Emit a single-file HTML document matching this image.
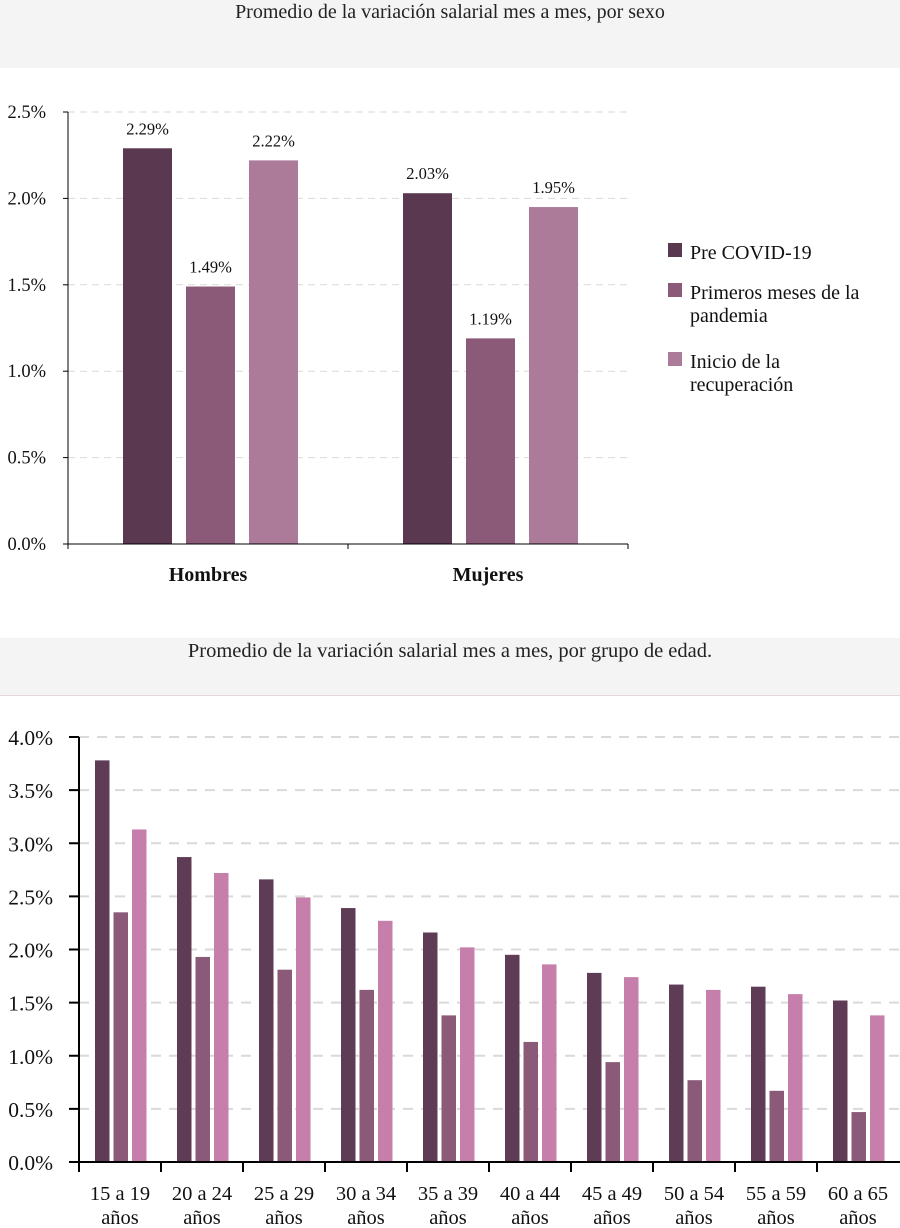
<!DOCTYPE html>
<html><head><meta charset="utf-8"><style>
body{margin:0;background:#fff;width:900px;height:1228px;overflow:hidden}
svg{display:block;font-family:"Liberation Serif",serif}
</style></head><body>
<svg id="s" width="900" height="1228">
<rect x="0" y="0" width="900" height="68" fill="#f4f4f4"/>
<text x="450" y="18" text-anchor="middle" font-size="20" fill="#222">Promedio de la variación salarial mes a mes, por sexo</text>
<rect x="0" y="638" width="900" height="57" fill="#f4f4f4"/>
<line x1="0" y1="695.5" x2="900" y2="695.5" stroke="#e8d6de"/>
<text x="450" y="657" text-anchor="middle" font-size="20.5" fill="#222">Promedio de la variación salarial mes a mes, por grupo de edad.</text>
<g id="c1"></g><g id="c2"></g>
<g font-size="20" fill="#111">
<rect x="668" y="243" width="14" height="14" fill="#5a3850"/>
<text x="690" y="259">Pre COVID-19</text>
<rect x="668" y="283" width="14" height="14" fill="#8a5a78"/>
<text x="690" y="299">Primeros meses de la</text>
<text x="690" y="322">pandemia</text>
<rect x="668" y="352" width="14" height="14" fill="#ad7b9a"/>
<text x="690" y="368">Inicio de la</text>
<text x="690" y="391">recuperación</text>
</g>
</svg>
<script>
const sexCats=["Hombres","Mujeres"];
const sexPre=[2.29,2.03];
const sexPrim=[1.49,1.19];
const sexIni=[2.22,1.95];
const sexTicks=[0,0.5,1,1.5,2,2.5];
const ageCats=["15 a 19","20 a 24","25 a 29","30 a 34","35 a 39","40 a 44","45 a 49","50 a 54","55 a 59","60 a 65"];
const agePre=[3.78,2.87,2.66,2.39,2.16,1.95,1.78,1.67,1.65,1.52];
const agePrim=[2.35,1.93,1.81,1.62,1.38,1.13,0.94,0.77,0.67,0.47];
const ageIni=[3.13,2.72,2.49,2.27,2.02,1.86,1.74,1.62,1.58,1.38];
const ageTicks=[0,0.5,1,1.5,2,2.5,3,3.5,4];
const NS="http://www.w3.org/2000/svg";
function mk(p,t,a,txt){const e=document.createElementNS(NS,t);for(const k in a)e.setAttribute(k,a[k]);if(txt!==undefined)e.textContent=txt;p.appendChild(e);return e;}
// Chart 1
(function(){
const g=document.getElementById('c1');
const x0=68,x1=628,y0=544,yTop=112,max=2.5;
const y=v=>y0-(v/max)*(y0-yTop);
const bw=(x1-x0)/sexCats.length;
sexTicks.forEach(t=>{
 if(t>0){const l=mk(g,'line',{x1:x0,x2:x1,y1:y(t),y2:y(t),stroke:'#d9d9d9','stroke-dasharray':'7,5'});
 }
 const tk=mk(g,'line',{x1:x0-5,x2:x0,y1:y(t),y2:y(t),stroke:'#000'});
 
 const tx=mk(g,'text',{x:x0-22,y:y(t)+6,'text-anchor':'end','font-size':'18.5',fill:'#111'},t.toFixed(1)+'%');
 
});
const series=[[sexPre,'#5a3850','pre'],[sexPrim,'#8a5a78','primeros'],[sexIni,'#ad7b9a','inicio']];
sexCats.forEach((c,i)=>{
 const cx=x0+bw*(i+0.5);
 series.forEach((s,j)=>{
  const v=s[0][i];const bx=cx-85+j*63;
  const r=mk(g,'rect',{x:bx,y:y(v),width:49,height:y0-y(v),fill:s[1]});
  
  const lb=mk(g,'text',{x:bx+24.5,y:y(v)-14,'text-anchor':'middle','font-size':'16.5',fill:'#111'},v.toFixed(2)+'%');
  
 });
 const cl=mk(g,'text',{x:cx,y:581,'text-anchor':'middle','font-size':'20','font-weight':'bold',fill:'#111'},c);
 
 const xt=mk(g,'line',{x1:x0+bw*(i+1),x2:x0+bw*(i+1),y1:y0,y2:y0+5,stroke:'#000'});
 
});
const ya=mk(g,'line',{x1:x0,x2:x0,y1:yTop,y2:y0+5,stroke:'#000'});

const xa=mk(g,'line',{x1:x0,x2:x1,y1:y0,y2:y0,stroke:'#000'});

})();
// Chart 2
(function(){
const g=document.getElementById('c2');
const x0=79,x1=899,y0=1162,yTop=737,max=4;
const y=v=>y0-(v/max)*(y0-yTop);
const bw=(x1-x0)/ageCats.length;
ageTicks.forEach(t=>{
 if(t>0){const l=mk(g,'line',{x1:x0,x2:900,y1:y(t),y2:y(t),stroke:'#d9d9d9','stroke-width':'2','stroke-dasharray':'10,8'});
 }
 const tk=mk(g,'line',{x1:x0-10,x2:x0,y1:y(t),y2:y(t),stroke:'#000','stroke-width':'2'});
 
 const tx=mk(g,'text',{x:53,y:y(t)+8,'text-anchor':'end','font-size':'21.5',fill:'#111'},t.toFixed(1)+'%');
 
});
const series=[[agePre,'#5e3c56','pre'],[agePrim,'#8a5a78','primeros'],[ageIni,'#c67fab','inicio']];
ageCats.forEach((c,i)=>{
 const left=x0+bw*i;
 series.forEach((s,j)=>{
  const v=s[0][i];
  const r=mk(g,'rect',{x:left+16+j*18.5,y:y(v),width:14.5,height:y0-y(v),fill:s[1]});
  
 });
 const xt=mk(g,'line',{x1:left,x2:left,y1:y0,y2:y0+10,stroke:'#000','stroke-width':'2'});
 
 const cl=mk(g,'text',{x:left+bw/2,y:1200,'text-anchor':'middle','font-size':'20.5',fill:'#111'},c);
 
 const c2=mk(g,'text',{x:left+bw/2,y:1224,'text-anchor':'middle','font-size':'20.5',fill:'#111'},'años');
 
});
const ya=mk(g,'line',{x1:x0,x2:x0,y1:yTop,y2:y0,stroke:'#000','stroke-width':'2'});

const xa=mk(g,'line',{x1:x0-10,x2:900,y1:y0,y2:y0,stroke:'#000','stroke-width':'2'});

})();
</script>
</body></html>
